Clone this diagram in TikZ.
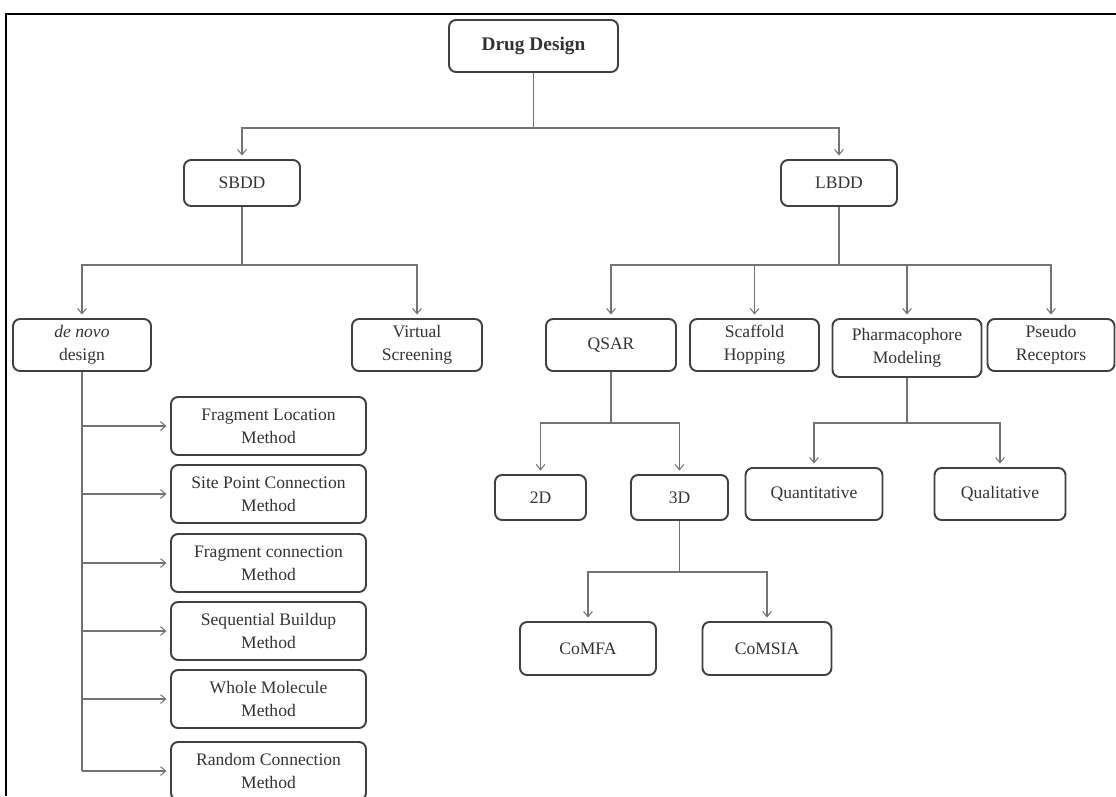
\documentclass[tikz,border=0pt]{standalone}
\usepackage{fontspec}
\setmainfont{Liberation Serif}
\usetikzlibrary{arrows.meta}
\begin{document}
\begin{tikzpicture}[x=0.02cm,y=-0.02cm,>={Straight Barb[length=3pt,width=5pt]},
  bx/.style={draw=black!75,line width=1.1pt,rounded corners=4pt,align=center,inner sep=0pt,
    minimum height=1.04cm,text=black!80,font=\fontsize{10}{13}\selectfont},
  ln/.style={draw=black!55,line width=0.6pt},
  ar/.style={ln,->,shorten >=2pt}]
\useasboundingbox (0,0) rectangle (1116,796);
\draw[line width=1.2pt] (6,796) -- (6,14) -- (1116,14);

\node[bx,minimum width=3.38cm,font=\fontsize{11}{13}\selectfont\bfseries] (dd) at (533.5,46) {Drug Design};
\node[bx,minimum width=2.32cm,minimum height=0.92cm] (sbdd) at (242,183) {SBDD};
\node[bx,minimum width=2.32cm,minimum height=0.92cm] (lbdd) at (839,183) {LBDD};

\node[bx,minimum width=2.76cm] (denovo) at (82,345) {\textit{de novo}\\design};
\node[bx,minimum width=2.6cm] (vs) at (417,345) {Virtual\\Screening};
\node[bx,minimum width=2.6cm] (qsar) at (611,345) {QSAR};
\node[bx,minimum width=2.58cm] (scaf) at (754.5,345) {Scaffold\\Hopping};
\node[bx,minimum width=2.98cm,minimum height=1.16cm] (pharm) at (907,348) {Pharmacophore\\Modeling};
\node[bx,minimum width=2.54cm] (pseudo) at (1051,345) {Pseudo\\Receptors};

\node[bx,minimum width=1.82cm,minimum height=0.9cm] (d2) at (540.5,497.5) {2D};
\node[bx,minimum width=1.94cm,minimum height=0.9cm] (d3) at (679.5,497.5) {3D};
\node[bx,minimum width=2.74cm] (quant) at (814,494) {Quantitative};
\node[bx,minimum width=2.62cm] (qual) at (1000,494) {Qualitative};
\node[bx,minimum width=2.72cm,minimum height=1.06cm] (comfa) at (588,648.5) {CoMFA};
\node[bx,minimum width=2.58cm,minimum height=1.06cm] (comsia) at (767,648.5) {CoMSIA};

\node[bx,minimum width=3.9cm,minimum height=1.16cm] (m1) at (268.5,426) {Fragment Location\\Method};
\node[bx,minimum width=3.9cm,minimum height=1.16cm] (m2) at (268.5,494) {Site Point Connection\\Method};
\node[bx,minimum width=3.9cm,minimum height=1.16cm] (m3) at (268.5,563) {Fragment connection\\Method};
\node[bx,minimum width=3.9cm,minimum height=1.16cm] (m4) at (268.5,631) {Sequential Buildup\\Method};
\node[bx,minimum width=3.9cm,minimum height=1.16cm] (m5) at (268.5,699) {Whole Molecule\\Method};
\node[bx,minimum width=3.9cm,minimum height=1.16cm] (m6) at (268.5,771) {Random Connection\\Method};

\coordinate (ddbus) at (533.5,128);
\draw[ln] (dd) -- (ddbus);
\draw[ar] (ddbus) -| (sbdd);
\draw[ar] (ddbus) -| (lbdd);

\coordinate (sbus) at (242,265);
\draw[ln] (sbdd) -- (sbus);
\draw[ar] (sbus) -| (denovo);
\draw[ar] (sbus) -| (vs);

\coordinate (lbus) at (839,265);
\draw[ln] (lbdd) -- (lbus);
\draw[ar] (lbus) -| (qsar);
\draw[ar] (lbus) -| (scaf);
\draw[ar] (lbus) -| (pharm);
\draw[ar] (lbus) -| (pseudo);

\coordinate (qbus) at (611,423);
\draw[ln] (qsar) -- (qbus);
\draw[ar] (qbus) -| (d2);
\draw[ar] (qbus) -| (d3);

\coordinate (pbus) at (907,423);
\draw[ln] (pharm) -- (pbus);
\draw[ar] (pbus) -| (quant);
\draw[ar] (pbus) -| (qual);

\coordinate (tbus) at (679.5,572);
\draw[ln] (d3) -- (tbus);
\draw[ar] (tbus) -| (comfa);
\draw[ar] (tbus) -| (comsia);

\draw[ln] (denovo) -- (denovo.south |- m6.west);
\draw[ar] (denovo.south |- m1.west) -- (m1);
\draw[ar] (denovo.south |- m2.west) -- (m2);
\draw[ar] (denovo.south |- m3.west) -- (m3);
\draw[ar] (denovo.south |- m4.west) -- (m4);
\draw[ar] (denovo.south |- m5.west) -- (m5);
\draw[ar] (denovo.south |- m6.west) -- (m6);
\end{tikzpicture}
\end{document}
